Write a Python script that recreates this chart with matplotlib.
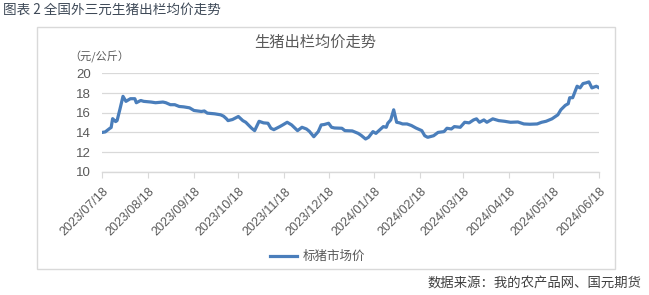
#!/usr/bin/env python

import matplotlib
matplotlib.use("Agg")
import matplotlib.pyplot as plt
import matplotlib.dates as mdates
import pandas as pd
from matplotlib.patches import Rectangle

plt.rcParams["font.family"] = ["Noto Sans CJK SC", "DejaVu Sans"]

# values
dates = [
    "2023-07-18", "2023-07-20", "2023-07-23", "2023-07-24", "2023-07-25", "2023-07-27",
    "2023-07-28", "2023-07-30", "2023-08-01", "2023-08-03", "2023-08-06", "2023-08-09",
    "2023-08-10", "2023-08-13", "2023-08-15", "2023-08-20", "2023-08-23", "2023-08-28",
    "2023-08-30", "2023-09-02", "2023-09-05", "2023-09-08", "2023-09-11", "2023-09-15",
    "2023-09-18", "2023-09-23", "2023-09-25", "2023-09-27", "2023-10-02", "2023-10-06",
    "2023-10-08", "2023-10-10", "2023-10-11", "2023-10-14", "2023-10-18", "2023-10-21",
    "2023-10-23", "2023-10-27", "2023-10-29", "2023-11-01", "2023-11-04", "2023-11-07",
    "2023-11-09", "2023-11-11", "2023-11-15", "2023-11-17", "2023-11-20", "2023-11-23",
    "2023-11-27", "2023-11-30", "2023-12-03", "2023-12-05", "2023-12-08", "2023-12-11",
    "2023-12-13", "2023-12-15", "2023-12-18", "2023-12-20", "2023-12-22", "2023-12-27",
    "2023-12-29", "2024-01-03", "2024-01-07", "2024-01-09", "2024-01-12", "2024-01-14",
    "2024-01-17", "2024-01-19", "2024-01-21", "2024-01-24", "2024-01-26", "2024-01-27",
    "2024-01-29", "2024-01-31", "2024-02-02", "2024-02-04", "2024-02-06", "2024-02-09",
    "2024-02-12", "2024-02-15", "2024-02-19", "2024-02-21", "2024-02-23", "2024-02-27",
    "2024-03-01", "2024-03-05", "2024-03-07", "2024-03-10", "2024-03-12", "2024-03-16",
    "2024-03-19", "2024-03-22", "2024-03-25", "2024-03-27", "2024-03-29", "2024-04-01",
    "2024-04-03", "2024-04-07", "2024-04-11", "2024-04-15", "2024-04-19", "2024-04-24",
    "2024-04-28", "2024-05-02", "2024-05-07", "2024-05-10", "2024-05-13", "2024-05-17",
    "2024-05-21", "2024-05-23", "2024-05-26", "2024-05-28", "2024-05-29", "2024-05-31",
    "2024-06-03", "2024-06-05", "2024-06-07", "2024-06-09", "2024-06-11", "2024-06-13",
    "2024-06-16", "2024-06-18",
]
prices = [
    14.00, 14.05, 14.40, 14.50, 15.40, 15.10,
    15.20, 16.40, 17.67, 17.16, 17.43, 17.43,
    17.02, 17.25, 17.16, 17.09, 17.02, 17.09,
    17.02, 16.82, 16.82, 16.64, 16.60, 16.50,
    16.23, 16.13, 16.18, 15.96, 15.89, 15.79,
    15.65, 15.38, 15.20, 15.31, 15.62, 15.20,
    15.03, 14.42, 14.18, 15.13, 14.97, 14.93,
    14.42, 14.28, 14.59, 14.76, 15.03, 14.76,
    14.18, 14.52, 14.35, 14.11, 13.56, 14.08,
    14.76, 14.80, 14.93, 14.52, 14.45, 14.42,
    14.18, 14.15, 13.90, 13.70, 13.33, 13.50,
    14.08, 13.90, 14.18, 14.59, 14.52, 14.93,
    15.27, 16.30, 15.03, 14.97, 14.86, 14.86,
    14.70, 14.45, 14.18, 13.66, 13.50, 13.66,
    14.00, 14.08, 14.42, 14.35, 14.59, 14.52,
    15.03, 14.97, 15.27, 15.38, 15.03, 15.27,
    15.03, 15.38, 15.20, 15.13, 15.03, 15.06,
    14.86, 14.83, 14.86, 15.03, 15.13, 15.38,
    15.79, 16.30, 16.75, 16.92, 17.53, 17.53,
    18.70, 18.53, 18.97, 19.04, 19.14, 18.53,
    18.70, 18.53,
]
tick_dates = [
    "2023-07-18", "2023-08-18", "2023-09-18", "2023-10-18", "2023-11-18", "2023-12-18",
    "2024-01-18", "2024-02-18", "2024-03-18", "2024-04-18", "2024-05-18", "2024-06-18",
]
y_ticks = [10, 12, 14, 16, 18, 20]


def main():
    x = pd.to_datetime(dates)
    ticks = pd.to_datetime(tick_dates)

    fig = plt.figure(figsize=(6.49, 2.95), dpi=100)
    ax = fig.add_axes([0.1576, 0.418, 0.7658, 0.333])

    grid_c = "#D9D9D9"
    text_c = "#595959"

    line, = ax.plot(x, prices, color="#4A7EBB", lw=2.3, solid_joinstyle="round")

    ax.set_ylim(10, 20)
    ax.set_yticks(y_ticks)
    ax.set_xlim(ticks[0], ticks[-1])
    ax.set_xticks(ticks)
    ax.xaxis.set_major_formatter(mdates.DateFormatter("%Y/%m/%d"))

    ax.grid(axis="y", color=grid_c, lw=0.9)
    ax.set_axisbelow(True)
    for s in ["left", "right", "top"]:
        ax.spines[s].set_visible(False)
    ax.spines["bottom"].set_color(grid_c)
    ax.spines["bottom"].set_linewidth(1.0)

    ax.tick_params(axis="y", length=0, pad=8, labelsize=9.5, labelcolor=text_c)
    ax.tick_params(axis="x", length=4, color=grid_c, pad=6, labelsize=9, labelcolor=text_c)
    for lab in ax.get_yticklabels() + ax.get_xticklabels():
        lab.set_family(["Liberation Sans", "DejaVu Sans"])
    for lab in ax.get_xticklabels():
        lab.set_rotation(45)
        lab.set_ha("right")
        lab.set_va("top")
        lab.set_rotation_mode("anchor")

    # titles and notes
    fig.text(0.005, 0.966, "图表 2 全国外三元生猪出栏均价走势", fontsize=9.8,
             color="#3F4A58", ha="left", va="center")
    fig.text(0.486, 0.858, "生猪出栏均价走势", fontsize=11, color=text_c,
             ha="center", va="center")
    fig.text(0.107, 0.806, "（元/公斤）", fontsize=8, color=text_c,
             ha="left", va="center")
    fig.text(0.989, 0.040, "数据来源：我的农产品网、国元期货", fontsize=9.6,
             color="#404040", ha="right", va="center")

    leg = fig.legend([line], ["标猪市场价"], loc="center", bbox_to_anchor=(0.489, 0.130),
                     frameon=False, fontsize=9, handlelength=2.2, handletextpad=0.4)
    for t in leg.get_texts():
        t.set_color(text_c)

    # outer frame
    fig.patches.append(Rectangle((37 / 649, 1 - 269 / 295), (615 - 37) / 649,
                                 (269 - 26.5) / 295, transform=fig.transFigure,
                                 fill=False, edgecolor=grid_c, lw=1.0))

    fig.savefig("out.png", dpi=100)


if __name__ == "__main__":
    main()
